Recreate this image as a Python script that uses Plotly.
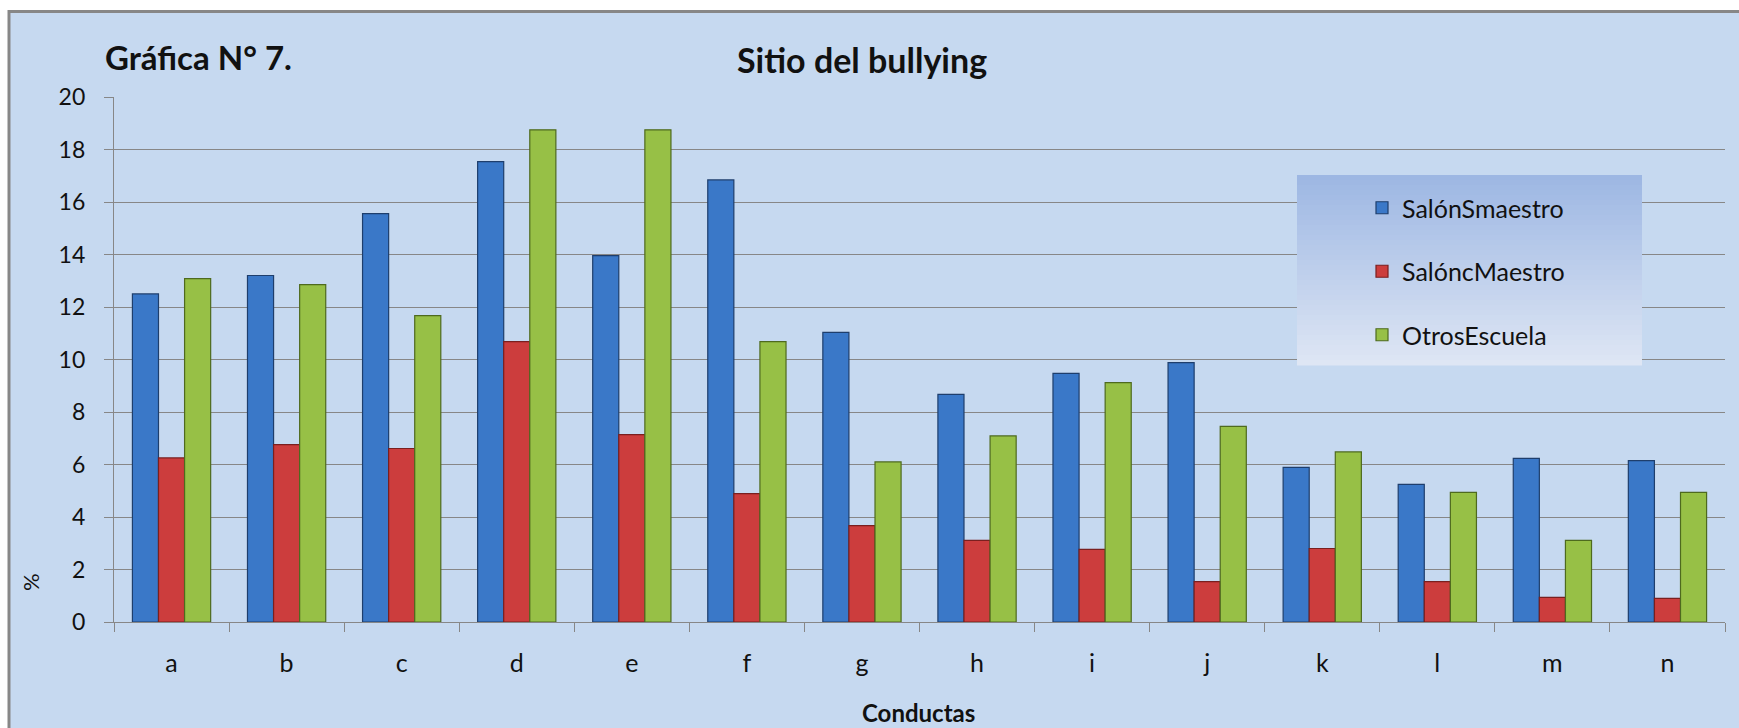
import plotly.graph_objects as go

# Conductas (categorías) y porcentajes por sitio
conductas = ["a", "b", "c", "d", "e", "f", "g", "h", "i", "j", "k", "l", "m", "n"]
salon_sin_maestro = [12.5, 13.2, 15.56, 17.54, 13.96, 16.84, 11.03, 8.67, 9.47, 9.88, 5.89, 5.24, 6.23, 6.15]
salon_con_maestro = [6.25, 6.76, 6.61, 10.68, 7.14, 4.89, 3.67, 3.11, 2.77, 1.54, 2.80, 1.54, 0.94, 0.90]
otros_escuela = [13.08, 12.85, 11.67, 18.75, 18.75, 10.68, 6.10, 7.09, 9.12, 7.45, 6.48, 4.94, 3.11, 4.94]

series_names = ["SalónSmaestro", "SalóncMaestro", "OtrosEscuela"]
y_ticks = [0, 2, 4, 6, 8, 10, 12, 14, 16, 18, 20]

W, H = 1739, 728
ML, MR, MT, MB = 114, 14, 97, 106
PW, PH = W - ML - MR, H - MT - MB

FONT = "Lato, 'Open Sans', sans-serif"
BG = "#C6D9F0"


def px_x(px):
    return (px - ML) / PW


def px_y(py):
    return (H - MB - py) / PH


fig = go.Figure()

styles = [
    ("#3A78C8", "#1E3E6C"),
    ("#CC3D3D", "#7A1F1F"),
    ("#97C046", "#4E6A1E"),
]
for i, (name, vals) in enumerate(zip(series_names, [salon_sin_maestro, salon_con_maestro, otros_escuela])):
    fill, edge = styles[i]
    fig.add_trace(go.Bar(
        x=conductas, y=vals, name=name, legendgroup=name,
        marker=dict(color=fill, line=dict(color=edge, width=1.2)),
    ))

shapes = []
# chart area with frame
shapes.append(dict(type="rect", xref="paper", yref="paper", layer="below",
                   x0=px_x(9), x1=px_x(W + 20), y0=px_y(11.5), y1=px_y(H + 20),
                   fillcolor=BG, line=dict(color="#878787", width=3)))

# legend panel with vertical gradient
lx0, lx1, ly0, ly1 = 1297, 1642, 175, 365
top_c = (157, 183, 227)
bot_c = (222, 230, 244)
n_strips = 38
for k in range(n_strips):
    t = k / (n_strips - 1)
    c = tuple(round(top_c[j] + (bot_c[j] - top_c[j]) * t) for j in range(3))
    y_a = ly0 + (ly1 - ly0) * k / n_strips
    y_b = ly0 + (ly1 - ly0) * (k + 1) / n_strips
    shapes.append(dict(type="rect", xref="paper", yref="paper", layer="above",
                       x0=px_x(lx0), x1=px_x(lx1), y0=px_y(y_a), y1=px_y(y_b + 0.6),
                       fillcolor="rgb(%d,%d,%d)" % c, line=dict(width=0)))

annotations = [
    dict(text="<b>Gráfica N° 7.</b>", xref="paper", yref="paper",
         x=px_x(103), y=px_y(57), xanchor="left", yanchor="middle",
         showarrow=False, font=dict(family=FONT, size=33, color="#111")),
    dict(text="<b>Sitio del bullying</b>", xref="paper", yref="paper",
         x=px_x(862), y=px_y(60), xanchor="center", yanchor="middle",
         showarrow=False, font=dict(family=FONT, size=34, color="#111")),
    dict(text="<b>Conductas</b>", xref="paper", yref="paper",
         x=px_x(918), y=px_y(712), xanchor="center", yanchor="middle",
         showarrow=False, font=dict(family=FONT, size=24, color="#111")),
    dict(text="%", xref="paper", yref="paper", textangle=-90,
         x=px_x(30), y=px_y(582), xanchor="center", yanchor="middle",
         showarrow=False, font=dict(family=FONT, size=22, color="#111")),
]

fig.update_layout(
    width=W, height=H,
    margin=dict(l=ML, r=MR, t=MT, b=MB, pad=0),
    paper_bgcolor="white",
    plot_bgcolor="rgba(0,0,0,0)",
    barmode="group", bargap=0.32, bargroupgap=0,
    font=dict(family=FONT, size=23, color="#111"),
    shapes=shapes,
    annotations=annotations,
    showlegend=True,
    legend=dict(
        x=px_x(1362), y=px_y(185), xanchor="left", yanchor="top",
        bgcolor="rgba(0,0,0,0)", borderwidth=0,
        font=dict(family=FONT, size=25, color="#111"),
        tracegroupgap=28, itemclick=False,
    ),
)

fig.update_xaxes(
    type="category", tickson="boundaries", ticks="outside", ticklen=9,
    tickcolor="#878787", tickwidth=1.3,
    showline=True, linecolor="#878787", linewidth=1.3,
    showgrid=False, tickfont=dict(family=FONT, size=25, color="#111"),
    ticklabelstandoff=19,
)
fig.update_yaxes(
    range=[0, 20], tickvals=y_ticks, ticks="outside", ticklen=9,
    tickcolor="#878787", tickwidth=1.3,
    showline=True, linecolor="#878787", linewidth=1.3,
    showgrid=True, gridcolor="#878787", gridwidth=1.3,
    zeroline=False, tickfont=dict(family=FONT, size=23, color="#111"),
    ticklabelstandoff=14,
)

fig.write_html("out.html")
